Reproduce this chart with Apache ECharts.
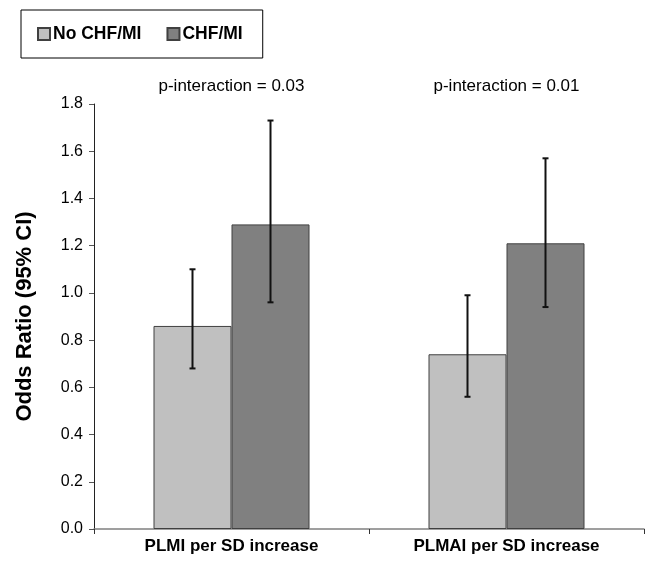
<!DOCTYPE html>
<html>
<head>
<meta charset="utf-8">
<script src="https://cdn.jsdelivr.net/npm/echarts@6/dist/echarts.min.js"></script>
<style>
html,body{margin:0;padding:0;background:#fff;}
#chart{width:645px;height:563px;}
</style>
</head>
<body>
<div id="chart"></div>
<script>
var categories = ['PLMI per SD increase', 'PLMAI per SD increase'];
var seriesNames = ['No CHF/MI', 'CHF/MI'];
var noChfValues = [0.86, 0.74];
var noChfLow = [0.68, 0.56];
var noChfHigh = [1.10, 0.99];
var chfValues = [1.29, 1.21];
var chfLow = [0.96, 0.94];
var chfHigh = [1.73, 1.57];
var pInteraction = ['p-interaction = 0.03', 'p-interaction = 0.01'];
var yTicks = { min: 0, max: 1.8, interval: 0.2 };

var FONT = "'Liberation Sans', Arial, sans-serif";
var BAR_W = 78;

function errData(low, high) {
  return low.map(function (l, i) { return [i, l, high[i]]; });
}
function errRender(offsetSign) {
  return function (params, api) {
    var i = api.value(0);
    var lo = api.coord([i, api.value(1)]);
    var hi = api.coord([i, api.value(2)]);
    var x = lo[0] + offsetSign * BAR_W / 2;
    var cap = 3;
    var st = { stroke: '#111', lineWidth: 2 };
    return {
      type: 'group',
      children: [
        { type: 'line', shape: { x1: x, y1: lo[1], x2: x, y2: hi[1] }, style: st },
        { type: 'line', shape: { x1: x - cap, y1: lo[1], x2: x + cap, y2: lo[1] }, style: st },
        { type: 'line', shape: { x1: x - cap, y1: hi[1], x2: x + cap, y2: hi[1] }, style: st }
      ]
    };
  };
}

var chart = echarts.init(document.getElementById('chart'), null, { renderer: 'canvas' });
chart.setOption({
  animation: false,
  backgroundColor: '#fff',
  legend: {
    left: 21, top: 10,
    padding: [15, 20, 15, 16],
    borderColor: '#000', borderWidth: 1,
    itemWidth: 12, itemHeight: 12, itemGap: 25,
    icon: 'rect',
    data: seriesNames,
    textStyle: { fontFamily: FONT, fontWeight: 'bold', fontSize: 17.5, color: '#000', padding: [0, 0, 0, -2] }
  },
  grid: { left: 94, right: 1, top: 104, bottom: 34 },
  xAxis: {
    type: 'category',
    data: categories,
    axisLine: { lineStyle: { color: '#808080', width: 1.5 } },
    axisTick: { show: true, length: 5, lineStyle: { color: '#333' } },
    axisLabel: { interval: 0, margin: 9, fontFamily: FONT, fontWeight: 'bold', fontSize: 17, color: '#000' }
  },
  yAxis: {
    type: 'value',
    min: yTicks.min, max: yTicks.max, interval: yTicks.interval,
    name: 'Odds Ratio (95% CI)',
    nameLocation: 'middle',
    nameGap: 58,
    nameTextStyle: { fontFamily: FONT, fontWeight: 'bold', fontSize: 22, color: '#000' },
    axisLine: { show: true, lineStyle: { color: '#222', width: 1 } },
    axisTick: { show: true, length: 5, lineStyle: { color: '#555' } },
    splitLine: { show: false },
    axisLabel: {
      margin: 11, fontFamily: FONT, fontSize: 16, color: '#000',
      formatter: function (v) { return v.toFixed(1); }
    }
  },
  series: [
    {
      name: seriesNames[0], type: 'bar', data: noChfValues, barWidth: BAR_W, barGap: '0%',
      itemStyle: { color: '#c0c0c0', borderColor: '#404040', borderWidth: 1 }
    },
    {
      name: seriesNames[1], type: 'bar', data: chfValues, barWidth: BAR_W, barGap: '0%',
      itemStyle: { color: '#808080', borderColor: '#404040', borderWidth: 1 }
    },
    {
      type: 'custom', data: errData(noChfLow, noChfHigh), renderItem: errRender(-1),
      encode: { x: 0, y: [1, 2] }, z: 10, silent: true
    },
    {
      type: 'custom', data: errData(chfLow, chfHigh), renderItem: errRender(1),
      encode: { x: 0, y: [1, 2] }, z: 10, silent: true
    },
    {
      type: 'custom', data: pInteraction.map(function (t, i) { return [i, yTicks.max, t]; }),
      encode: { x: 0, y: 1 }, silent: true, clip: false,
      renderItem: function (params, api) {
        var p = api.coord([api.value(0), yTicks.max]);
        return {
          type: 'text',
          style: {
            x: p[0], y: p[1] - 18, text: pInteraction[params.dataIndex],
            align: 'center', verticalAlign: 'middle',
            font: '17px ' + FONT, fill: '#000'
          }
        };
      }
    }
  ]
});
</script>
</body>
</html>
